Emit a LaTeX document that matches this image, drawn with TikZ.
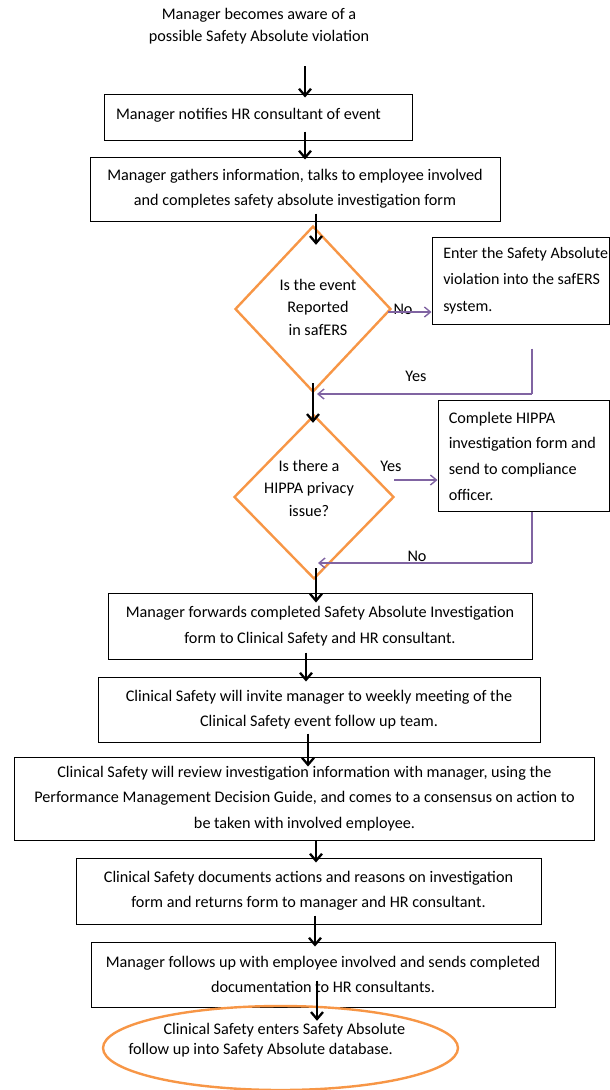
\documentclass[tikz,border=0pt]{standalone}
\usepackage{fontspec}
\setmainfont{Carlito}
\usetikzlibrary{arrows.meta,shapes.geometric}
\definecolor{orng}{HTML}{F79646}
\definecolor{purp}{HTML}{8064A2}
\tikzset{
  txt/.style={font=\fontsize{16.2}{25.5}\selectfont},
  box/.style={draw=black, line width=1pt, rectangle, inner sep=0pt, align=center, txt},
  dec/.style={draw=orng, line width=2.4pt, diamond, inner sep=0pt},
  arr/.style={line width=2.3pt, -{Straight Barb[length=7pt,width=12pt]}},
  parr/.style={draw=purp, line width=1.4pt, -{Straight Barb[length=6pt,width=10pt]}},
  plin/.style={draw=purp, line width=1.4pt},
}
\begin{document}
\begin{tikzpicture}[x=1pt,y=-1pt]
\useasboundingbox (0,0) rectangle (610,1090);

% start text
\node[txt, align=center, font=\fontsize{16.2}{22}\selectfont] (start) at (259,26) {Manager becomes aware of a\\possible Safety Absolute violation};

% boxes
\node[box, minimum width=308, minimum height=46, text width=284, inner xsep=12pt, align=flush left, text height=11pt, text depth=7pt] (b1) at (258,117) {Manager notifies HR consultant of event};
\node[box, minimum width=410, minimum height=64] (b2) at (295,189) {Manager gathers information, talks to employee involved\\and completes safety absolute investigation form};

\node[dec, minimum width=156, minimum height=166] (d1) at (313,309) {};
\node[txt, align=center, font=\fontsize{16.2}{22.5}\selectfont] (d1t) at (318,307) {Is the event\\Reported\\in safERS};

\node[box, minimum width=177.5, minimum height=87, text width=155, align=flush left, font=\fontsize{16}{26.5}\selectfont] (e1) at (520.75,280.5) {\mbox{Enter the Safety Absolute}\\\mbox{violation into the safERS}\\\mbox{system.}};

\node[dec, minimum width=160, minimum height=164] (d2) at (314,497) {};
\node[txt, align=center, font=\fontsize{16.2}{22.5}\selectfont] (d2t) at (309,488) {Is there a\\HIPPA privacy\\issue?};

\node[box, minimum width=171.5, minimum height=111, text width=150, align=flush left, font=\fontsize{16.2}{25.7}\selectfont] (h1) at (523.75,456) {\mbox{Complete HIPPA}\\\mbox{investigation form and}\\\mbox{send to compliance}\\\mbox{officer.}};

\node[box, minimum width=424, minimum height=66] (b4) at (320,626) {Manager forwards completed Safety Absolute Investigation\\form to Clinical Safety and HR consultant.};
\node[box, minimum width=442, minimum height=65] (b5) at (319,709.5) {Clinical Safety will invite manager to weekly meeting of the\\Clinical Safety event follow up team.};
\node[box, minimum width=580, minimum height=83] (b6) at (304.5,798.5) {Clinical Safety will review investigation information with manager, using the\\Performance Management Decision Guide, and comes to a consensus on action to\\be taken with involved employee.};
\node[box, minimum width=465, minimum height=66] (b7) at (308.5,891) {Clinical Safety documents actions and reasons on investigation\\form and returns form to manager and HR consultant.};
\node[box, minimum width=464, minimum height=65] (b8) at (323,974.5) {Manager follows up with employee involved and sends completed\\documentation to HR consultants.};

\node[draw=orng, line width=2.4pt, ellipse, minimum width=355, minimum height=84] (el) at (280.5,1048) {};
\node[txt, align=left, anchor=west, font=\fontsize{16.2}{20}\selectfont] (elt) at (125,1040) {\hspace*{35pt}Clinical Safety enters Safety Absolute\\follow up into Safety Absolute database.};

% labels
\node[txt] (lno1) at (403,309) {No};
\node[txt] (lyes1) at (416,376) {Yes};
\node[txt] (lyes2) at (391,466) {Yes};
\node[txt] (lno2) at (417,556) {No};

% black arrows
\draw[arr] ([yshift=-19pt]start.south -| 305,0) -- ([yshift=-4pt]b1.north -| 305,0);
\draw[arr] ([yshift=9pt]b1.south -| 305,0) -- ([yshift=-3pt]b2.north -| 305,0);
\draw[arr] ([yshift=8pt]b2.south -| 316,0) -- ([yshift=-20pt]d1.north -| 316,0);
\draw[arr] ([yshift=10pt]d1.south -| 313,0) -- ([yshift=-9pt]d2.north -| 313,0);
\draw[arr] ([yshift=12pt]d2.south -| 316,0) -- ([yshift=-10pt]b4.north -| 316,0);
\draw[arr] ([yshift=7pt]b4.south -| 306,0) -- ([yshift=-5pt]b5.north -| 306,0);
\draw[arr] ([yshift=9pt]b5.south -| 308,0) -- ([yshift=-10pt]b6.north -| 308,0);
\draw[arr] (b6.south -| 316,0) -- ([yshift=-5pt]b7.north -| 316,0);
\draw[arr] ([yshift=9pt]b7.south -| 315,0) -- ([yshift=-5pt]b8.north -| 315,0);
\draw[arr] ([yshift=27pt]b8.south -| 317,0) -- ([yshift=-16pt]el.north -| 317,0);

% purple connectors
\draw[parr] ([xshift=-4pt]d1.east |- 0,312) -- (e1.west |- 0,312);
\coordinate (r1) at (532,394);
\draw[plin] ([yshift=-24pt]e1.south -| 532,0) -- (r1);
\draw[parr] (r1) -- (317,394);
\draw[parr] ([xshift=-1pt]d2.east |- 0,480) -- (h1.west |- 0,480);
\coordinate (r2) at (532,563);
\draw[plin] (h1.south -| 532,0) -- (r2);
\draw[parr] (r2) -- (318,563);
\end{tikzpicture}
\end{document}
